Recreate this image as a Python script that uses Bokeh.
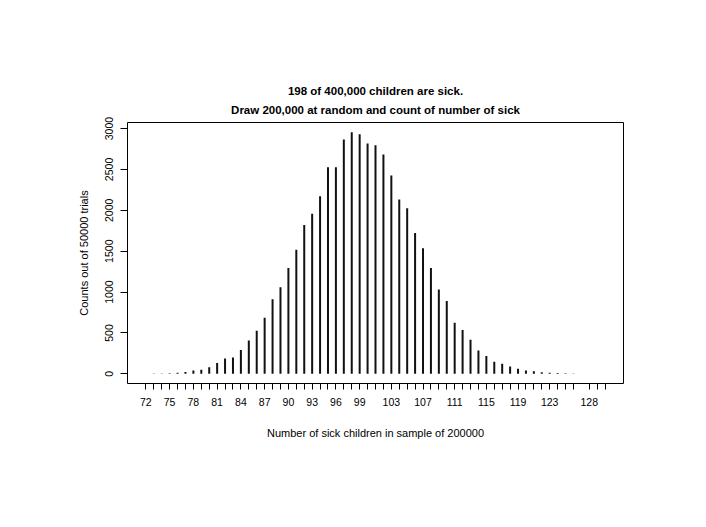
from bokeh.plotting import figure
from bokeh.models import Range1d, FixedTicker, Title, ColumnDataSource
from bokeh.embed import file_html
from bokeh.resources import INLINE

# ---- data ----
sick_values = list(range(72, 127)) + [128, 129, 130]
counts = [2, 3, 4, 7, 12, 22, 40, 50, 82, 131,
          188, 200, 290, 409, 527, 686, 911, 1058, 1294, 1518,
          1821, 1959, 2172, 2527, 2527, 2865, 2956, 2931, 2816, 2797,
          2682, 2425, 2131, 2025, 1723, 1535, 1294, 1033, 890, 625,
          535, 416, 286, 217, 147, 122, 90, 61, 41, 31,
          20, 14, 9, 6, 4,
          2, 1, 1]
x_labels_shown = [72, 75, 78, 81, 84, 87, 90, 93, 96, 99, 103, 107, 111, 115, 119, 123, 128]
y_ticks = [0, 500, 1000, 1500, 2000, 2500, 3000]

title_line1 = "198 of 400,000 children are sick."
title_line2 = "Draw 200,000 at random and count of number of sick"
x_title = "Number of sick children in sample of 200000"
y_title = "Counts out of 50000 trials"

FONT = "Liberation Sans"

xmin, xmax = min(sick_values), max(sick_values)
xpad = 0.04 * (xmax - xmin)
ymax = max(counts)
ypad = 0.04 * ymax

p = figure(width=690, height=511, output_backend="svg", toolbar_location=None,
           x_range=Range1d(xmin - xpad, xmax + xpad),
           y_range=Range1d(-ypad, ymax + ypad),
           min_border_left=127, min_border_right=67,
           min_border_top=122, min_border_bottom=128)

p.background_fill_color = "white"
p.border_fill_color = "white"
p.outline_line_color = "black"
p.outline_line_width = 1
p.xgrid.visible = False
p.ygrid.visible = False

src = ColumnDataSource(dict(x=sick_values, y=counts))
p.segment(x0="x", y0=0, x1="x", y1="y", source=src,
          line_color="#111111", line_width=2, line_cap="butt")

# x axis
xa = p.xaxis[0]
xa.ticker = FixedTicker(ticks=sick_values)
xa.major_label_overrides = {v: (str(v) if v in x_labels_shown else "") for v in sick_values}
xa.axis_line_color = None
xa.major_tick_in = 0
xa.major_tick_out = 6
xa.minor_tick_line_color = None
xa.major_tick_line_color = "black"
xa.major_label_text_font = FONT
xa.major_label_text_font_size = "10.5px"
xa.major_label_text_color = "black"
xa.major_label_standoff = 8
xa.axis_label = x_title
xa.axis_label_text_font = FONT
xa.axis_label_text_font_size = "11px"
xa.axis_label_text_font_style = "normal"
xa.axis_label_text_color = "black"
xa.axis_label_standoff = 18

# y axis
ya = p.yaxis[0]
ya.ticker = FixedTicker(ticks=y_ticks)
ya.axis_line_color = None
ya.major_tick_in = 0
ya.major_tick_out = 7
ya.minor_tick_line_color = None
ya.major_tick_line_color = "black"
ya.major_label_orientation = "vertical"
ya.major_label_text_font = FONT
ya.major_label_text_font_size = "10.5px"
ya.major_label_text_color = "black"
ya.major_label_standoff = 7
ya.axis_label = y_title
ya.axis_label_text_font = FONT
ya.axis_label_text_font_size = "11px"
ya.axis_label_text_font_style = "normal"
ya.axis_label_text_color = "black"
ya.axis_label_standoff = 13

# two centred title lines; the first one added sits nearest the frame
t2 = Title(text=title_line2, align="center", text_font=FONT, text_font_size="11.5px",
           text_font_style="bold", text_color="black", standoff=14)
t1 = Title(text=title_line1, align="center", text_font=FONT, text_font_size="11.5px",
           text_font_style="bold", text_color="black", standoff=-4)
p.add_layout(t2, "above")
p.add_layout(t1, "above")

open("out.html", "w").write(file_html(p, INLINE))
